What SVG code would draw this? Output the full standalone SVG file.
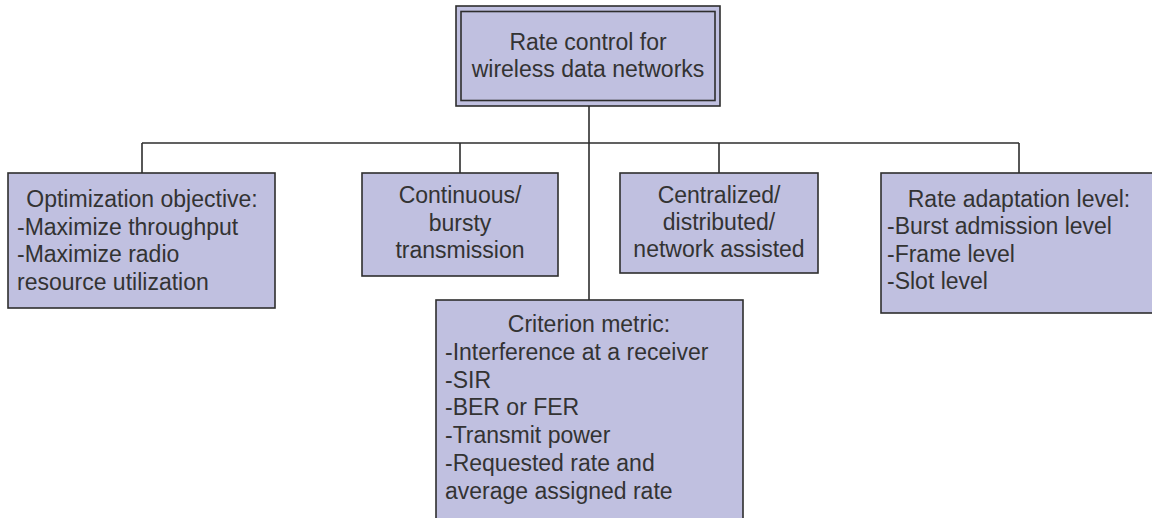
<svg xmlns="http://www.w3.org/2000/svg" width="1152" height="518" viewBox="0 0 1152 518">
<style>
.box{fill:#c0c0e0;stroke:#2e2e2e;stroke-width:1.6}
.t{font-family:"Liberation Sans",Arial,sans-serif;font-size:23px;fill:#333}
.c{text-anchor:middle}
.conn{stroke:#2e2e2e;stroke-width:1.6;fill:none}
</style>
<rect width="1152" height="518" fill="#fff"/>
<g id="connectors">
<path class="conn" d="M589 106V300M142 143H1019M142 143V173M460 143V173M719 143V173M1019 143V173"/>
</g>
<g id="root">
<rect class="box" x="456" y="6" width="264" height="100"/>
<rect x="461" y="11.5" width="254" height="89" fill="none" stroke="#2e2e2e" stroke-width="1.6"/>
<text class="t c" x="588" y="50">Rate control for</text>
<text class="t c" x="588" y="77">wireless data networks</text>
</g>
<g id="optimization">
<rect class="box" x="8" y="173" width="267" height="135"/>
<text class="t c" x="142" y="207">Optimization objective:</text>
<text class="t" x="17" y="235">-Maximize throughput</text>
<text class="t" x="17" y="262">-Maximize radio</text>
<text class="t" x="17" y="290">resource utilization</text>
</g>
<g id="continuous">
<rect class="box" x="362" y="173" width="196" height="103"/>
<text class="t c" x="460" y="203">Continuous/</text>
<text class="t c" x="460" y="231">bursty</text>
<text class="t c" x="460" y="258">transmission</text>
</g>
<g id="centralized">
<rect class="box" x="620" y="173" width="198" height="100"/>
<text class="t c" x="719" y="203">Centralized/</text>
<text class="t c" x="719" y="230">distributed/</text>
<text class="t c" x="719" y="257">network assisted</text>
</g>
<g id="rate-adaptation">
<rect class="box" x="881" y="173" width="276" height="140"/>
<text class="t c" x="1019" y="207">Rate adaptation level:</text>
<text class="t" x="887" y="234">-Burst admission level</text>
<text class="t" x="887" y="262">-Frame level</text>
<text class="t" x="887" y="289">-Slot level</text>
</g>
<g id="criterion">
<rect class="box" x="436" y="300" width="307" height="230"/>
<text class="t c" x="589" y="332">Criterion metric:</text>
<text class="t" x="445" y="360">-Interference at a receiver</text>
<text class="t" x="445" y="387.5">-SIR</text>
<text class="t" x="445" y="415">-BER or FER</text>
<text class="t" x="445" y="443">-Transmit power</text>
<text class="t" x="445" y="471">-Requested rate and</text>
<text class="t" x="445" y="499">average assigned rate</text>
</g>
</svg>
